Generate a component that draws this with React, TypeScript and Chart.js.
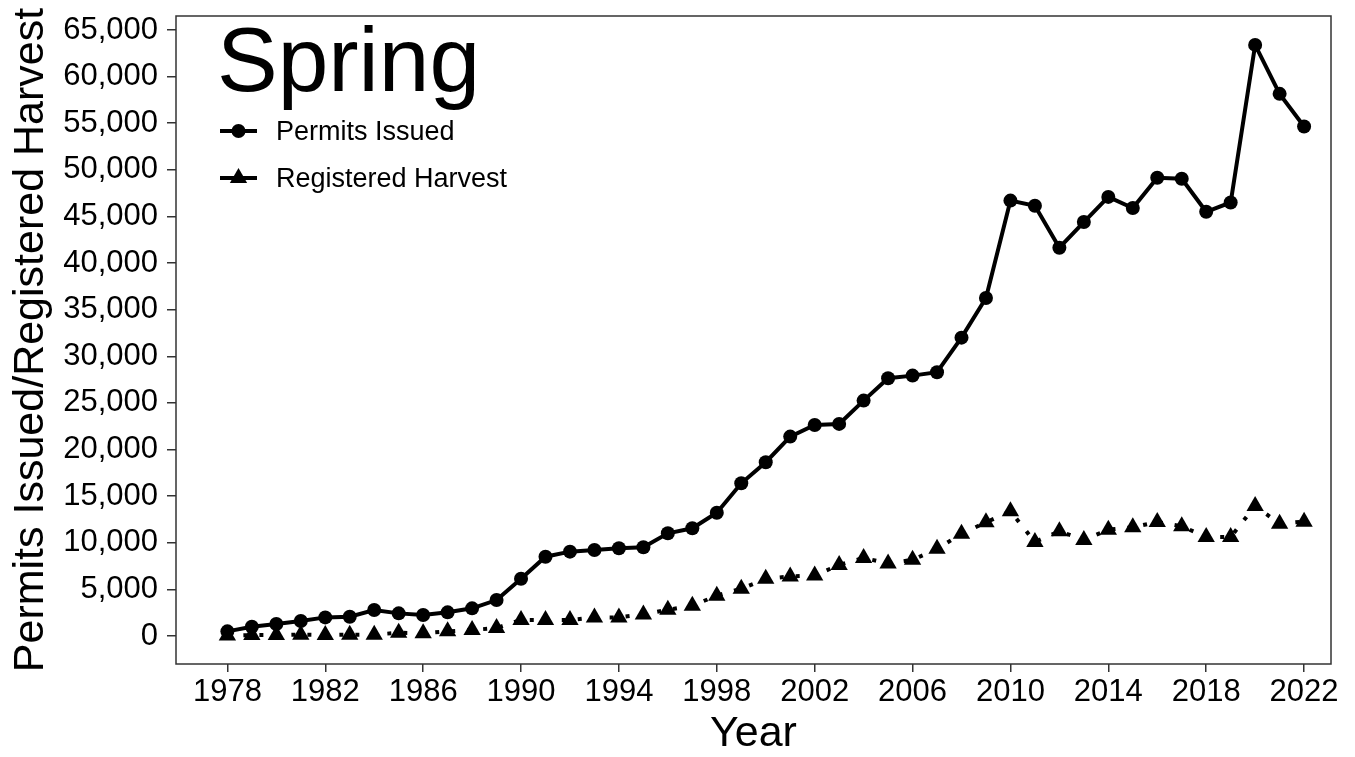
import React, { useEffect, useRef } from "react";
import { Chart, registerables } from "chart.js";

Chart.register(...registerables);

const years = [
  1978, 1979, 1980, 1981, 1982, 1983, 1984, 1985, 1986, 1987, 1988, 1989,
  1990, 1991, 1992, 1993, 1994, 1995, 1996, 1997, 1998, 1999,
  2000, 2001, 2002, 2003, 2004, 2005, 2006, 2007, 2008, 2009,
  2010, 2011, 2012, 2013, 2014, 2015, 2016, 2017, 2018, 2019,
  2020, 2021, 2022,
];

const permitsIssued = [
  500, 1000, 1290, 1610, 2000, 2070, 2790, 2430, 2250, 2540, 2970, 3860,
  6150, 8510, 9050, 9230, 9410, 9520, 11020, 11560, 13230, 16380,
  18640, 21390, 22640, 22750, 25250, 27650, 27930, 28290, 32000, 36250,
  46700, 46150, 41650, 44400, 47100, 45900, 49150, 49050, 45500, 46500,
  63400, 58150, 54650,
];

const registeredHarvest = [
  50, 100, 100, 150, 100, 150, 150, 350, 300, 500, 650, 850,
  1730, 1720, 1720, 2000, 2000, 2320, 2820, 3250, 4330, 5080,
  6130, 6390, 6490, 7630, 8380, 7780, 8170, 9350, 10960, 12200,
  13380, 10090, 11230, 10300, 11410, 11660, 12230, 11770, 10620, 10620,
  13950, 12050, 12270,
];

const xTickValues = [1978, 1982, 1986, 1990, 1994, 1998, 2002, 2006, 2010, 2014, 2018, 2022];
const yTickValues = [0, 5000, 10000, 15000, 20000, 25000, 30000, 35000, 40000, 45000, 50000, 55000, 60000, 65000];

const panelTitle = "Spring";
const seriesNames = ["Permits Issued", "Registered Harvest"];
const xTitle = "Year";
const yTitle = "Permits Issued/Registered Harvest";

const FONT = "'Liberation Sans', Arial, sans-serif";

const overlayPlugin = {
  id: "overlay",
  afterDraw(chart: any) {
    const { ctx, chartArea } = chart;
    ctx.save();
    // panel border
    ctx.strokeStyle = "#333333";
    ctx.lineWidth = 1.5;
    ctx.strokeRect(chartArea.left, chartArea.top, chartArea.right - chartArea.left, chartArea.bottom - chartArea.top);

    // panel title
    ctx.fillStyle = "#000";
    ctx.font = `91px ${FONT}`;
    ctx.textAlign = "left";
    ctx.textBaseline = "alphabetic";
    ctx.fillText(panelTitle, 217, 91);

    // legend
    const rows = [131, 178];
    chart.data.datasets.forEach((ds: any, i: number) => {
      const y = rows[i];
      ctx.beginPath();
      ctx.strokeStyle = "#000";
      ctx.lineWidth = 4;
      ctx.setLineDash([]);
      ctx.moveTo(220, y);
      ctx.lineTo(257, y);
      ctx.stroke();
      ctx.fillStyle = "#000";
      ctx.beginPath();
      if (ds.pointStyle === "triangle") {
        const r = 10;
        ctx.moveTo(238.5, y - r);
        ctx.lineTo(238.5 + r * Math.sin((2 * Math.PI) / 3), y + r * 0.5);
        ctx.lineTo(238.5 - r * Math.sin((2 * Math.PI) / 3), y + r * 0.5);
        ctx.closePath();
      } else {
        ctx.arc(238.5, y, 7, 0, Math.PI * 2);
      }
      ctx.fill();
      ctx.font = `27px ${FONT}`;
      ctx.textBaseline = "middle";
      ctx.fillText(ds.label, 276, y + 2);
    });
    ctx.restore();
  },
};

export default function App() {
  const ref = useRef<HTMLCanvasElement | null>(null);

  useEffect(() => {
    if (!ref.current) return;
    const chart = new Chart(ref.current, {
      type: "line",
      data: {
        datasets: [
          {
            label: seriesNames[0],
            data: years.map((x, i) => ({ x, y: permitsIssued[i] })),
            borderColor: "#000",
            backgroundColor: "#000",
            borderWidth: 4,
            pointStyle: "circle",
            pointRadius: 7,
            pointBorderWidth: 0,
            pointBackgroundColor: "#000",
            tension: 0,
          },
          {
            label: seriesNames[1],
            data: years.map((x, i) => ({ x, y: registeredHarvest[i] })),
            borderColor: "#000",
            backgroundColor: "#000",
            borderWidth: 4,
            borderDash: [4, 12],
            borderCapStyle: "butt",
            pointStyle: "triangle",
            pointRadius: 10,
            pointBorderWidth: 0,
            pointBackgroundColor: "#000",
            tension: 0,
          },
        ],
      },
      options: {
        animation: false,
        responsive: false,
        devicePixelRatio: 1,
        layout: { padding: { left: 0, top: 16, right: 24, bottom: 0 } },
        plugins: { legend: { display: false }, tooltip: { enabled: false } },
        scales: {
          x: {
            type: "linear",
            min: 1975.9,
            max: 2023.1,
            afterBuildTicks: (scale: any) => {
              scale.ticks = xTickValues.map((v) => ({ value: v }));
            },
            afterFit: (scale: any) => {
              scale.height = 93;
              scale.paddingLeft = 0;
              scale.paddingRight = 0;
            },
            ticks: {
              color: "#000",
              font: { family: FONT, size: 31 },
              padding: 2,
              maxRotation: 0,
              autoSkip: false,
              callback: (v: any) => String(v),
            },
            grid: { display: true, drawOnChartArea: false, drawTicks: true, tickLength: 8, color: "#333333", lineWidth: 1.5 },
            border: { display: false },
            title: {
              display: true,
              text: xTitle,
              color: "#000",
              font: { family: FONT, size: 43 },
              padding: { top: 0, bottom: -3 },
            },
          },
          y: {
            type: "linear",
            min: -3000,
            max: 66500,
            afterBuildTicks: (scale: any) => {
              scale.ticks = yTickValues.map((v) => ({ value: v }));
            },
            afterFit: (scale: any) => {
              scale.width = 176;
              scale.paddingTop = 0;
              scale.paddingBottom = 0;
            },
            ticks: {
              color: "#000",
              font: { family: FONT, size: 31 },
              padding: 9,
              autoSkip: false,
              callback: (v: any) => Number(v).toLocaleString("en-US"),
            },
            grid: { display: true, drawOnChartArea: false, drawTicks: true, tickLength: 9, color: "#333333", lineWidth: 1.5 },
            border: { display: false },
            title: {
              display: true,
              text: yTitle,
              color: "#000",
              font: { family: FONT, size: 43 },
              padding: { top: 5, bottom: 0 },
            },
          },
        },
      },
      plugins: [overlayPlugin],
    } as any);
    return () => chart.destroy();
  }, []);

  return (
    <div style={{ position: "absolute", left: 0, top: 0, width: 1355, height: 757, background: "#fff" }}>
      <canvas ref={ref} width={1355} height={757} style={{ display: "block" }} />
    </div>
  );
}
